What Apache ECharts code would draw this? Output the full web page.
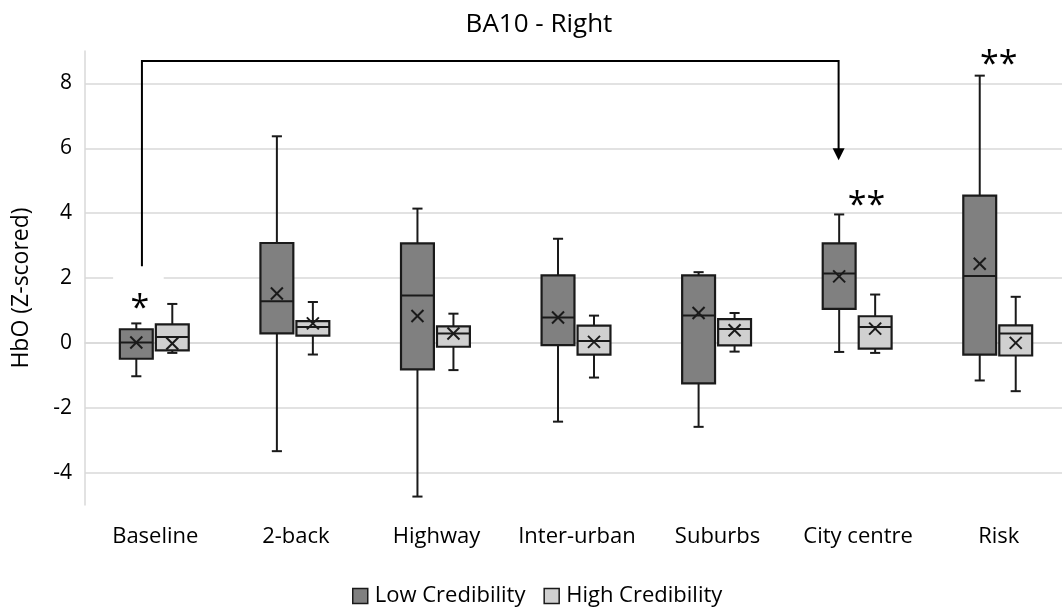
<!DOCTYPE html>
<html>
<head>
<meta charset="utf-8">
<script src="https://cdn.jsdelivr.net/npm/echarts@6/dist/echarts.min.js"></script>
<style>
html, body { margin: 0; padding: 0; background: #fff; }
#chart { width: 1062px; height: 613px; }
</style>
</head>
<body>
<div id="chart"></div>
<script>
// Conditions on the category axis
const categories = ['Baseline', '2-back', 'Highway', 'Inter-urban', 'Suburbs', 'City centre', 'Risk'];

// Five-number summaries: [lower whisker, Q1, median, Q3, upper whisker]
const lowBoxes = [
  [-1.03, -0.49, 0.01, 0.42, 0.60],
  [-3.34, 0.29, 1.28, 3.08, 6.37],
  [-4.74, -0.82, 1.46, 3.07, 4.14],
  [-2.43, -0.07, 0.78, 2.08, 3.21],
  [-2.59, -1.25, 0.84, 2.08, 2.18],
  [-0.28, 1.05, 2.14, 3.07, 3.96],
  [-1.16, -0.36, 2.06, 4.54, 8.24]
];
const lowMeans = [0.01, 1.52, 0.83, 0.78, 0.92, 2.05, 2.44];

const highBoxes = [
  [-0.31, -0.23, 0.18, 0.57, 1.20],
  [-0.36, 0.22, 0.49, 0.67, 1.26],
  [-0.84, -0.12, 0.29, 0.51, 0.90],
  [-1.07, -0.36, 0.06, 0.53, 0.84],
  [-0.27, -0.08, 0.43, 0.73, 0.92],
  [-0.31, -0.18, 0.49, 0.82, 1.49],
  [-1.49, -0.39, 0.29, 0.54, 1.42]
];
const highMeans = [-0.02, 0.60, 0.29, 0.03, 0.39, 0.44, 0.00];

// Value-axis tick labels
const yTickLabels = [-4, -2, 0, 2, 4, 6, 8];

// Significance markers: [category, value, text]
const sigMarks = [
  ['Baseline', 1.26, '*'],
  ['City centre', 4.43, '**'],
  ['Risk', 8.78, '**']
];

// Comparison bracket: categories it joins and its levels [start, top, arrow tip]
const bracketCats = ['Baseline', 'City centre'];
const bracketLevels = [2.36, 8.69, 5.63];

const FONT = 'Open Sans';
const INK = '#1a1a1a';

function boxRenderer(shift, fill) {
  return function (params, api) {
    const i = api.value(0);
    const band = api.size([1, 0])[0];
    const cx = api.coord([i, 0])[0] + shift * band;
    const half = band * 0.117;
    const cap = band * 0.036;
    const yAt = k => api.coord([i, api.value(k)])[1];
    const yMin = yAt(1), yQ1 = yAt(2), yMed = yAt(3), yQ3 = yAt(4), yMax = yAt(5), yMean = yAt(6);
    const line = (x1, y1, x2, y2) => ({
      type: 'line', shape: { x1, y1, x2, y2 },
      style: { stroke: INK, lineWidth: 2 }
    });
    const m = 6;
    return {
      type: 'group',
      children: [
        line(cx, yMax, cx, yMin),
        line(cx - cap, yMax, cx + cap, yMax),
        line(cx - cap, yMin, cx + cap, yMin),
        {
          type: 'rect',
          shape: { x: cx - half, y: yQ3, width: 2 * half, height: yQ1 - yQ3 },
          style: { fill: fill, stroke: INK, lineWidth: 2.2 }
        },
        line(cx - half, yMed, cx + half, yMed),
        line(cx - m, yMean - m, cx + m, yMean + m),
        line(cx - m, yMean + m, cx + m, yMean - m)
      ]
    };
  };
}

function annotationRenderer(params, api) {
  const band = api.size([1, 0])[0];
  const i0 = categories.indexOf(bracketCats[0]);
  const i1 = categories.indexOf(bracketCats[1]);
  const x0 = api.coord([i0, 0])[0] - 0.095 * band;
  const x1 = api.coord([i1, 0])[0] - 0.139 * band;
  const yStart = api.coord([i0, bracketLevels[0]])[1];
  const yTop = api.coord([i0, bracketLevels[1]])[1];
  const yTip = api.coord([i1, bracketLevels[2]])[1];
  const head = 12;
  const children = [];
  // white label backing under the bracket start
  const bx = api.coord([i0, 0])[0];
  const by = api.coord([i0, 2])[1];
  children.push({
    type: 'rect',
    shape: { x: bx - 0.30 * band, y: by - 9, width: 0.36 * band, height: 18 },
    style: { fill: '#ffffff' }
  });
  children.push({
    type: 'polyline',
    shape: { points: [[x0, yStart], [x0, yTop], [x1, yTop], [x1, yTip - head + 1]] },
    style: { stroke: '#000', lineWidth: 2, fill: null }
  });
  children.push({
    type: 'polygon',
    shape: { points: [[x1 - 6, yTip - head], [x1 + 6, yTip - head], [x1, yTip]] },
    style: { fill: '#000' }
  });
  const shifts = [-0.11, 0.06, 0];
  sigMarks.forEach(function (s, k) {
    const idx = categories.indexOf(s[0]);
    const p = api.coord([idx, s[1]]);
    children.push({
      type: 'text',
      x: p[0] + shifts[k] * band,
      y: p[1] + 7,
      style: {
        text: s[2], fontFamily: FONT, fontSize: 34, fill: '#000',
        align: 'center', verticalAlign: 'middle'
      }
    });
  });
  return { type: 'group', children: children };
}

const chart = echarts.init(document.getElementById('chart'), null, { renderer: 'canvas' });

chart.setOption({
  backgroundColor: '#ffffff',
  animation: false,
  title: {
    text: 'BA10 - Right',
    left: 534,
    textAlign: 'center',
    top: 7,
    textStyle: { fontFamily: FONT, fontSize: 26, fontWeight: 'normal', color: '#000' }
  },
  legend: {
    bottom: 1,
    left: 347,
    icon: 'rect',
    itemWidth: 15,
    itemHeight: 15,
    itemGap: 18,
    itemStyle: { borderColor: INK, borderWidth: 1.5 },
    textStyle: { fontFamily: FONT, fontSize: 22, color: '#000', padding: [0, 0, 0, 2] },
    data: ['Low Credibility', 'High Credibility']
  },
  grid: { left: 85, right: -7, top: 51, bottom: 108, outerBoundsMode: 'none', containLabel: false },
  xAxis: {
    type: 'category',
    data: categories,
    boundaryGap: true,
    axisLine: { lineStyle: { color: '#d9d9d9', width: 1.5 } },
    axisTick: { show: false },
    axisLabel: { fontFamily: FONT, fontSize: 22, color: '#000', margin: 21, interval: 0 },
    splitLine: { show: false }
  },
  yAxis: {
    type: 'value',
    min: -5,
    max: 9,
    interval: 1,
    axisLine: { show: true, lineStyle: { color: '#d9d9d9', width: 1.5 } },
    axisTick: { show: false },
    axisLabel: {
      fontFamily: FONT, fontSize: 21, color: '#000', margin: 13,
      formatter: v => (yTickLabels.indexOf(v) >= 0 ? String(v) : '')
    },
    splitLine: { show: true, lineStyle: { color: ['rgba(0,0,0,0)', '#d9d9d9'], width: 1.5 } }
  },
  graphic: [{
    type: 'text',
    x: 21,
    y: 288,
    rotation: Math.PI / 2,
    style: {
      text: 'HbO (Z-scored)', fontFamily: FONT, fontSize: 23, fill: '#000',
      align: 'center', verticalAlign: 'middle'
    }
  }],
  series: [
    {
      name: 'Low Credibility',
      type: 'custom',
      itemStyle: { color: '#808080' },
      encode: { x: 0, y: [1, 2, 3, 4, 5, 6] },
      renderItem: boxRenderer(-0.135, '#808080'),
      data: categories.map((c, i) => [i].concat(lowBoxes[i], [lowMeans[i]])),
      z: 3
    },
    {
      name: 'High Credibility',
      type: 'custom',
      itemStyle: { color: '#d0d0d0' },
      encode: { x: 0, y: [1, 2, 3, 4, 5, 6] },
      renderItem: boxRenderer(0.121, '#d0d0d0'),
      data: categories.map((c, i) => [i].concat(highBoxes[i], [highMeans[i]])),
      z: 3
    },
    {
      name: 'annotations',
      type: 'custom',
      silent: true,
      renderItem: annotationRenderer,
      data: [[0, 0]],
      encode: { x: 0, y: 1 },
      clip: false,
      z: 2
    }
  ]
});
</script>
</body>
</html>
